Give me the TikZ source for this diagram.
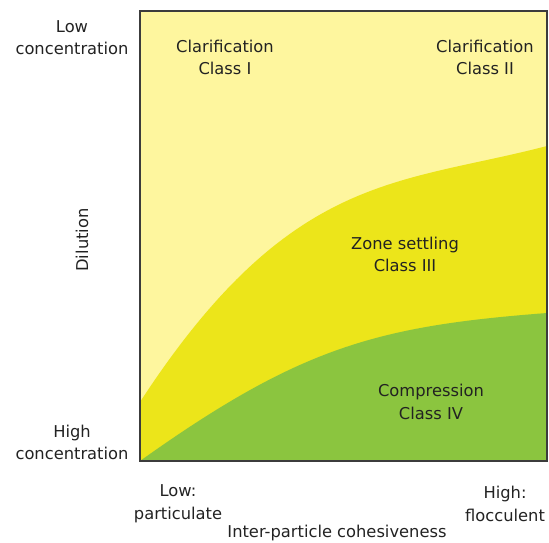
\documentclass[tikz,border=0pt]{standalone}
\usepackage{fontspec}
\setmainfont{DejaVu Sans}
\definecolor{lightyel}{HTML}{FEF69E}
\definecolor{midyel}{HTML}{ECE51A}
\definecolor{grn}{HTML}{8BC53F}
\definecolor{frame}{HTML}{3C3C3C}
\definecolor{txt}{HTML}{222222}
\begin{document}
\begin{tikzpicture}[x=1pt,y=1pt,
  lbl/.style={align=center,text=txt,font=\fontsize{16.3}{22.5}\selectfont,inner sep=0pt}]
\useasboundingbox (0,0) rectangle (549,542);
% regions
\fill[lightyel] (140,81) rectangle (547,531);
\fill[midyel] (140,140) .. controls (290,370) and (397,357) .. (547,396)
  -- (547,81) -- (140,81) -- cycle;
\fill[grn] (140,81) .. controls (300,195) and (377,216) .. (547,229)
  -- (547,81) -- cycle;
% frame
\node[draw=frame,line width=1.4pt,minimum width=407pt,minimum height=450pt,inner sep=0pt] (box) at (343.5,306) {};
% labels
\node[lbl] (c1) at (225,484.5) {Clarification\\Class I};
\node[lbl] (c2) at (485,484.5) {Clarification\\Class II};
\node[lbl] (c3) at (405,287.5) {Zone settling\\Class III};
\node[lbl] (c4) at (431,140) {Compression\\Class IV};
\node[lbl] (lowc) at (72,504.5) {Low\\concentration};
\node[lbl] (highc) at (72,99.5) {High\\concentration};
\node[lbl] (lowp) at (178,38) {Low:\\particulate};
\node[lbl] (highf) at (505,38) {High:\\flocculent};
\node[lbl] (xlab) at (337,9) {Inter-particle cohesiveness};
\node[lbl,rotate=90] (ylab) at (82,302) {Dilution};
\end{tikzpicture}
\end{document}
